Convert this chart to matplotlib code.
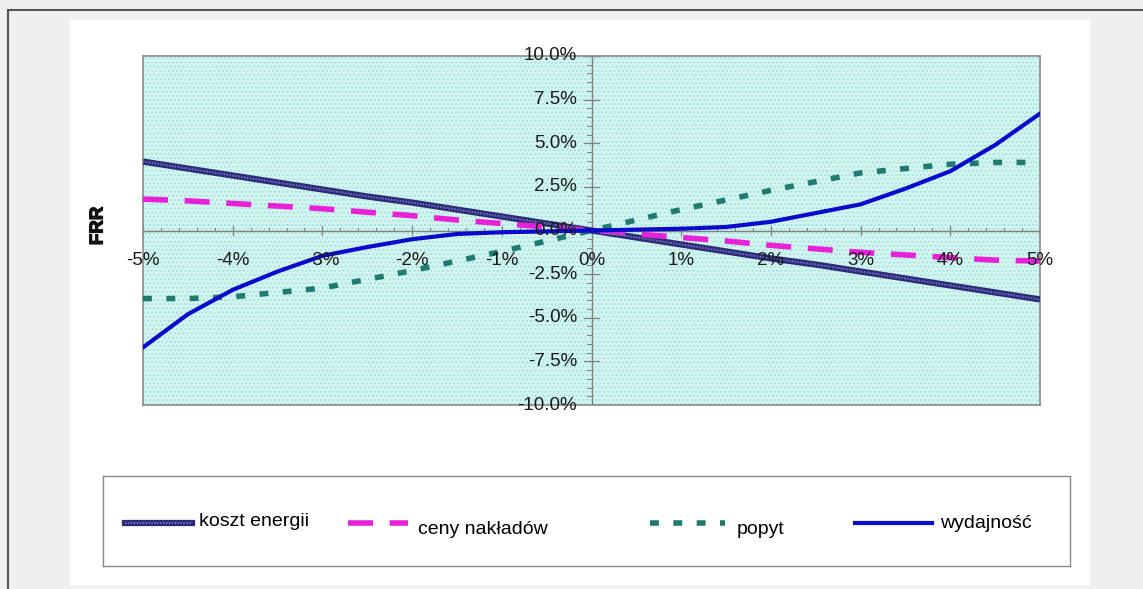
import matplotlib
matplotlib.use("Agg")
import matplotlib.pyplot as plt
import matplotlib.patheffects as pe
from matplotlib.patches import Rectangle
from matplotlib.lines import Line2D

plt.rcParams['font.family'] = ['Liberation Sans', 'DejaVu Sans']
plt.rcParams['hatch.linewidth'] = 0.6

# change of the driver (%)
zmiana = [-5.0, -4.5, -4.0, -3.5, -3.0, -2.5, -2.0, -1.5, -1.0, -0.5, 0.0,
          0.5, 1.0, 1.5, 2.0, 2.5, 3.0, 3.5, 4.0, 4.5, 5.0]

# FRR response (%)
koszt_energii = [3.95, 3.55, 3.15, 2.75, 2.35, 1.95, 1.6, 1.2, 0.8, 0.4, 0.0,
                 -0.4, -0.8, -1.2, -1.6, -1.95, -2.35, -2.75, -3.15, -3.55, -3.95]
ceny_nakladow = [1.8, 1.7, 1.55, 1.4, 1.25, 1.05, 0.85, 0.6, 0.4, 0.2, 0.0,
                 -0.2, -0.4, -0.6, -0.85, -1.05, -1.25, -1.4, -1.55, -1.7, -1.75]
popyt = [-3.9, -3.9, -3.8, -3.55, -3.3, -2.8, -2.3, -1.75, -1.2, -0.6, 0.0,
         0.6, 1.2, 1.75, 2.3, 2.8, 3.3, 3.55, 3.8, 3.9, 3.9]
wydajnosc = [-6.7, -4.8, -3.4, -2.35, -1.45, -0.95, -0.5, -0.2, -0.1, -0.05, 0.0,
             0.05, 0.1, 0.2, 0.5, 1.0, 1.5, 2.4, 3.4, 4.9, 6.7]

nazwy = ['koszt energii', 'ceny nakładów', 'popyt', 'wydajność']

W, H = 1143, 589
fig = plt.figure(figsize=(W / 100, H / 100), dpi=100, facecolor='#f0f0f0')


def fx(px):
    return px / W


def fy(py):
    return 1 - py / H


# outer frame and white panel (behind the axes)
fig.patches.append(Rectangle((fx(8), fy(700)), fx(1300), fy(10) - fy(700),
                             transform=fig.transFigure, facecolor='#f0f0f0',
                             edgecolor='#555555', linewidth=1.5, zorder=-2))
fig.patches.append(Rectangle((fx(70), fy(585)), fx(1090) - fx(70), fy(20) - fy(585),
                             transform=fig.transFigure, facecolor='white',
                             edgecolor='none', zorder=-1))

ax = fig.add_axes([fx(143), fy(405), fx(1040) - fx(143), fy(56) - fy(405)])
ax.set_xlim(-5, 5)
ax.set_ylim(-10, 10)
ax.set_facecolor('#d2f4f0')
ax.add_patch(Rectangle((0, 0), 1, 1, transform=ax.transAxes, facecolor='none',
                       hatch='....', edgecolor='#93dcd4', linewidth=0, zorder=0))

for s in ['left', 'right', 'top', 'bottom']:
    ax.spines[s].set_color('#8a8a8a')
    ax.spines[s].set_linewidth(1.2)

# axes crossing at zero
ax.axhline(0, color='#808080', lw=1.0, zorder=1)
ax.axvline(0, color='#808080', lw=1.0, zorder=1)
ax.tick_params(left=False, bottom=False, labelleft=False, labelbottom=False,
               which='both')
for xv in range(-5, 6):
    ax.plot([xv, xv], [-0.25, 0.25], color='#808080', lw=0.9, zorder=1)
for i in range(-25, 26):
    xv = i * 0.2
    if abs(xv - round(xv)) > 1e-6:
        ax.plot([xv, xv], [0, 0.12], color='#808080', lw=0.7, zorder=1)
for i in range(-8, 9):
    yv = i * 2.5
    ax.plot([-0.08, 0.08], [yv, yv], color='#808080', lw=0.9, zorder=1)
for i in range(-20, 21):
    yv = i * 0.5
    if abs(yv / 2.5 - round(yv / 2.5)) > 1e-6:
        ax.plot([-0.05, 0], [yv, yv], color='#808080', lw=0.7, zorder=1)

# tick labels
for xv in range(-5, 6):
    ax.text(xv, -1.7, f'{xv}%', ha='center', va='center', fontsize=13.5,
            color='#1a1a1a', zorder=5)
for i in range(-4, 5):
    yv = i * 2.5
    ax.text(-0.16, yv, f'{yv:.1f}%', ha='right', va='center', fontsize=13.5,
            color='#1a1a1a', zorder=5)

# series
ax.plot(zmiana, koszt_energii, color='#2a2a78', lw=4.5, zorder=3,
        solid_capstyle='butt')
ax.plot(zmiana, koszt_energii, color='#7070b8', lw=1.5, zorder=3.1,
        dashes=(0.7, 0.7))
ax.plot(zmiana, ceny_nakladow, color='#e820d8', lw=4, zorder=3,
        dashes=(4.5, 3), dash_capstyle='butt')
ax.plot(zmiana, popyt, color='#1f7a70', lw=4, zorder=3,
        dashes=(1.6, 2.6), dash_capstyle='butt')
ax.plot(zmiana, wydajnosc, color='#0a0acc', lw=3, zorder=3.2)

fig.text(fx(98), fy(226), 'FRR', rotation=90, ha='center', va='center',
         fontsize=13.5, fontweight='bold', color='#111111',
         path_effects=[pe.withStroke(linewidth=0.9, foreground='#111111')])

# legend box
lg = fig.add_axes([fx(103), fy(566), fx(1070) - fx(103), fy(476) - fy(566)])
lg.set_xlim(103, 1070)
lg.set_ylim(566, 476)
lg.set_facecolor('white')
for s in lg.spines.values():
    s.set_color('#8a8a8a')
    s.set_linewidth(1.0)
lg.set_xticks([])
lg.set_yticks([])

yl = 523
lg.add_line(Line2D([125, 192], [yl, yl], color='#2a2a78', lw=4.5))
lg.add_line(Line2D([125, 192], [yl, yl], color='#7070b8', lw=1.5, dashes=(0.7, 0.7)))
lg.text(199, yl - 1, nazwy[0], ha='left', va='center', fontsize=14)
lg.add_line(Line2D([348, 408], [yl, yl], color='#e820d8', lw=4, dashes=(4.5, 3),
                   dash_capstyle='butt'))
lg.text(418, yl + 6, nazwy[1], ha='left', va='center', fontsize=14)
lg.add_line(Line2D([650, 725], [yl, yl], color='#1f7a70', lw=4, dashes=(1.6, 2.6),
                   dash_capstyle='butt'))
lg.text(737, yl + 6, nazwy[2], ha='left', va='center', fontsize=14)
lg.add_line(Line2D([855, 932], [yl, yl], color='#0a0acc', lw=3))
lg.text(940, yl + 1, nazwy[3], ha='left', va='center', fontsize=14)

fig.savefig('out.png', dpi=100, facecolor=fig.get_facecolor())
